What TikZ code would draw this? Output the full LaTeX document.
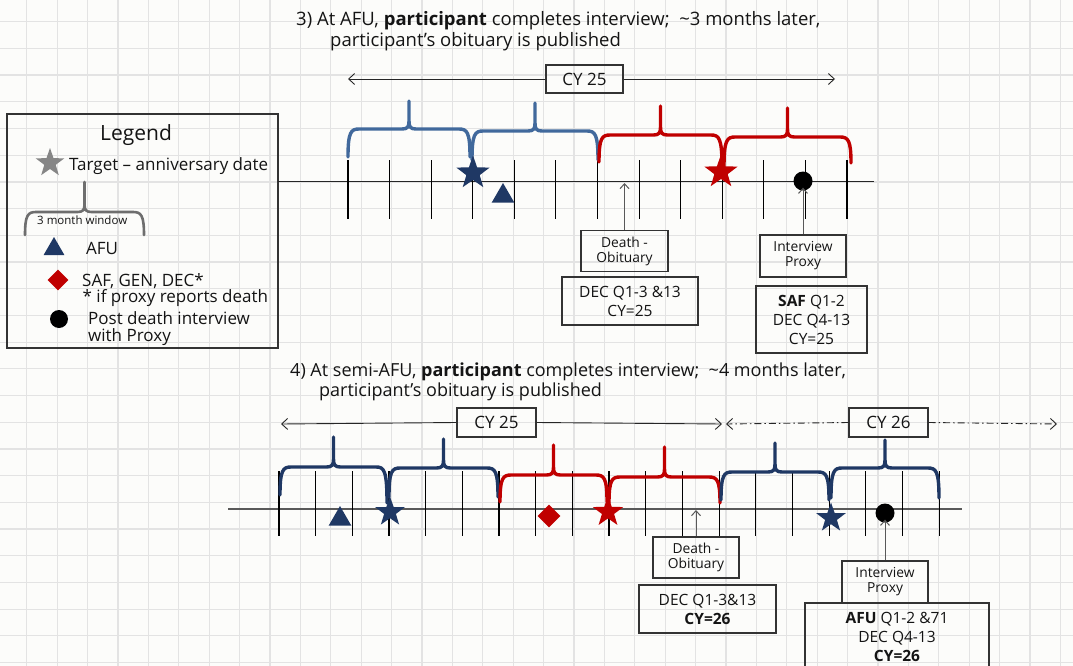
\documentclass[tikz,border=0pt]{standalone}
\usepackage{fontspec}
\setmainfont{Open Sans}
\usetikzlibrary{shapes.geometric,arrows.meta}
\definecolor{navy}{HTML}{1F3864}
\definecolor{steel}{HTML}{41699C}
\definecolor{dred}{HTML}{C00000}
\definecolor{gridc}{HTML}{E3E3E3}
\definecolor{paper}{HTML}{FCFCFA}
\definecolor{boxc}{HTML}{333333}
\definecolor{txt}{HTML}{141414}
\definecolor{legbr}{HTML}{6E6E6E}
\newcommand\tlbrace[7]{%
  \pgfmathsetmacro\bmid{(#2+#3)/2}%
  \draw[brace,#1] (#2,#6) .. controls (#2,{#4+3}) and ({#2+3},#4) .. ({#2+11},#4)
     -- ({\bmid-7},#4) .. controls ({\bmid-1.5},#4) and (\bmid,{#4-2}) .. (\bmid,{#4-8})
     -- (\bmid,#5) -- (\bmid,{#4-8}) .. controls (\bmid,{#4-2}) and ({\bmid+1.5},#4) .. ({\bmid+7},#4)
     -- ({#3-11},#4) .. controls ({#3-3},#4) and (#3,{#4+3}) .. (#3,#7);}
\begin{document}
\begin{tikzpicture}[x=1pt,y=-1pt,
  brace/.style={line width=3.4pt, line cap=round, line join=round},
  tickline/.style={line width=1.1pt, black},
  axisline/.style={line width=1pt, black!85},
  tbox/.style={draw=boxc, line width=1.2pt, align=center, text=txt, inner sep=0},
  boxsmall/.style={tbox, font=\fontsize{13.8}{15}\selectfont},
  boxmid/.style={tbox, font=\fontsize{15.5}{19}\selectfont},
  cybox/.style={tbox, font=\fontsize{17}{20}\selectfont},
  uparrow/.style={draw=black!65, line width=1pt, -{Straight Barb[length=5pt,width=9pt]}},
  cyarr/.style={draw=black!85, line width=0.9pt, -{Straight Barb[length=6pt,width=11pt]}},
  starsym/.style={star, star points=5, star point ratio=2.5, inner sep=0, minimum size=#1},
  trisym/.style={regular polygon, regular polygon sides=3, inner sep=0, minimum size=#1},
  diasym/.style={diamond, inner sep=0, minimum size=#1},
  dotsym/.style={circle, inner sep=0, minimum size=#1},
  titletext/.style={anchor=base west, inner sep=0, text=txt, font=\fontsize{18.5}{20}\selectfont},
  legtext/.style={anchor=base west, inner sep=0, text=txt, font=\fontsize{17}{20}\selectfont}]
\useasboundingbox (0,0) rectangle (1073,666);
\clip (0,0) rectangle (1073,666);
\fill[paper] (0,0) rectangle (1073,666);
\foreach \k in {0,...,34} \draw[gridc, line width=1.2pt] ({26.7+30.4*\k},0) -- ++(0,666);
\foreach \k in {0,...,24} \draw[gridc, line width=1.2pt] (0,{21.7+26.7*\k}) -- ++(1073,0);

% ---------- titles
\node[titletext] (t3a) at (296,25.8) {3) At AFU, \textbf{participant} completes interview;\ \ \textasciitilde3 months later,};
\node[titletext] (t3b) at (330,46.5) {participant’s\ obituary is published};
\node[titletext, font=\fontsize{18}{20}\selectfont] (t4a) at (290,376) {4) At semi-AFU, \textbf{participant} completes interview;\ \ \textasciitilde4 months later,};
\node[titletext, font=\fontsize{18}{20}\selectfont] (t4b) at (319,396) {participant’s\ obituary is\ published};

% ---------- legend
\node[draw=boxc, line width=1.2pt, minimum width=271pt, minimum height=234pt, inner sep=0] (legend) at (142.5,231) {};
\node[anchor=base west, inner sep=0, text=txt, font=\fontsize{21}{24}\selectfont] (legtitle) at (100,140.5) {Legend};
\node[starsym=30, fill=gray!95] (lstar) at (50,163) {};
\node[legtext] (ltarget) at (69,170) {Target – anniversary date};
\tlbrace{legbr, line width=2.6pt}{25}{144}{212}{182}{235}{235}
\node[anchor=base west, inner sep=0, text=txt, font=\fontsize{11.5}{13}\selectfont] (lwin) at (37,224.5) {3 month window};
\node[trisym=24, fill=navy] (ltri) at (54,249) {};
\node[legtext] (lafu) at (86,254) {AFU};
\node[diasym=21, fill=dred] (ldia) at (58,280) {};
\node[legtext] (lsaf) at (82,286) {SAF, GEN, DEC*};
\node[legtext] (lif) at (82.5,302) {* if proxy reports death};
\node[dotsym=18, fill=black] (ldot) at (59,319) {};
\node[legtext] (lpost) at (88,324) {Post death interview};
\node[legtext] (lwith) at (88,341) {with Proxy};

% ---------- timeline 3
\coordinate (ax3a) at (278,181);
\coordinate (ax3b) at (874,181);
\draw[axisline] (ax3a) -- (ax3b);
\foreach \k in {0,...,12} \draw[tickline] ({348+41.58*\k},160) -- ++(0,59);
\tlbrace{steel}{348}{470}{129}{101}{157}{157}
\tlbrace{steel}{472}{598}{131}{103}{160}{160}
\tlbrace{dred}{599}{722}{135}{106}{162}{167}
\tlbrace{dred}{724}{851}{137}{108}{167}{163}
\node[starsym=35, fill=navy] (s3a) at (473,173) {};
\node[trisym=26, fill=navy] (tri3) at (503,196) {};
\node[starsym=35, fill=dred] (s3b) at (721,172) {};
\node[dotsym=19, fill=black] (dot3) at (803,181) {};

\node[cybox, minimum width=77pt, minimum height=28pt] (cy3) at (584.5,79) {CY 25};
\coordinate (cy3L) at (348,79);
\coordinate (cy3R) at (835,79);
\draw[cyarr] (cy3.west) -- (cy3L);
\draw[cyarr] (cy3.east) -- (cy3R);

\node[boxsmall, minimum width=87pt, minimum height=41pt] (death3) at (624.5,251) {Death -\\Obituary};
\node[boxmid, minimum width=136pt, minimum height=48pt] (dec3) at (630,301) {DEC Q1-3 \&13\\CY=25};
\node[boxsmall, minimum width=86pt, minimum height=42pt] (int3) at (803,256) {Interview\\Proxy};
\node[boxmid, minimum width=111pt, minimum height=67pt] (saf3) at (811.5,319.5) {\textbf{SAF} Q1-2\\DEC Q4-13\\CY=25};
\coordinate (d3) at (624.5,183);
\draw[uparrow] (death3.north) -- (d3);
\draw[uparrow] (int3.north) -- ([yshift=3pt]dot3.south);

% ---------- timeline 4
\coordinate (ax4a) at (228,509);
\coordinate (ax4b) at (962,509);
\draw[axisline, black!65, line width=1.2pt] (ax4a) -- (ax4b);
\foreach \k in {0,...,18} \draw[tickline] ({279+36.67*\k},471) -- ++(0,65);
\tlbrace{navy}{280}{387}{467}{437}{495}{503}
\tlbrace{navy}{389}{498}{468}{439}{497}{497}
\tlbrace{dred}{500}{607}{475}{445}{502}{502}
\tlbrace{dred}{609}{720}{477}{447}{503}{503}
\tlbrace{navy}{721}{829}{472}{443}{500}{500}
\tlbrace{navy}{831}{939}{468}{440}{498}{498}
\node[trisym=26, fill=navy] (tri4) at (340,519) {};
\node[starsym=31, fill=navy] (s4a) at (390,512) {};
\node[diasym=23, fill=dred] (dia4) at (549,516) {};
\node[starsym=32, fill=dred] (s4b) at (608,512) {};
\node[starsym=31, fill=navy] (s4c) at (831,518) {};
\node[dotsym=19, fill=black] (dot4) at (885,513) {};

\node[cybox, minimum width=79pt, minimum height=29pt] (cy4) at (496.5,422.5) {CY 25};
\coordinate (cy4L) at (281,424);
\coordinate (cy4R) at (722,424);
\draw[cyarr] (cy4.west) -- (cy4L);
\draw[cyarr] (cy4.east) -- (cy4R);
\node[cybox, minimum width=79pt, minimum height=29pt] (cy5) at (888.5,422.5) {CY 26};
\coordinate (cy5L) at (726,424);
\coordinate (cy5R) at (1057,424);
\draw[cyarr, dash pattern=on 7pt off 3pt on 1.5pt off 3pt] (cy5.west) -- (cy5L);
\draw[cyarr, dash pattern=on 7pt off 3pt on 1.5pt off 3pt] (cy5.east) -- (cy5R);

\node[boxsmall, minimum width=86pt, minimum height=41pt] (death4) at (696,557.5) {Death -\\Obituary};
\node[boxmid, minimum width=137pt, minimum height=48pt] (dec4) at (707.5,609) {DEC Q1-3\&13\\\textbf{CY=26}};
\node[boxsmall, minimum width=86pt, minimum height=42pt] (int4) at (885,582) {Interview\\Proxy};
\node[boxmid, minimum width=184pt, minimum height=68pt] (afu4) at (897,637) {\textbf{AFU} Q1-2 \&71\\DEC Q4-13\\\textbf{CY=26}};
\coordinate (d4) at (696,510);
\draw[uparrow] (death4.north) -- (d4);
\draw[uparrow] (int4.north) -- ([yshift=3pt]dot4.south);
\end{tikzpicture}
\end{document}
